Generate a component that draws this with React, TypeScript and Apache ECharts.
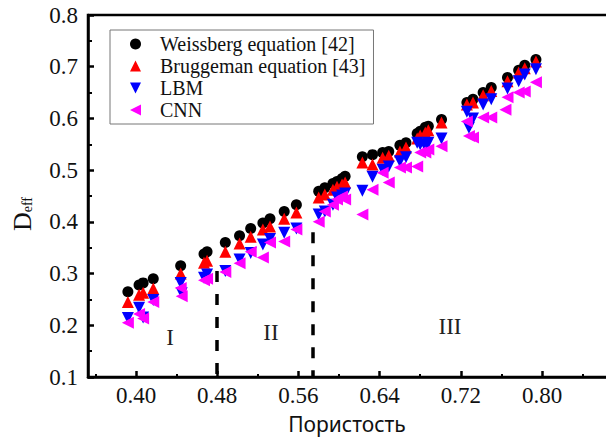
import React, { useEffect, useRef } from "react";
import * as echarts from "echarts";

const porosity = [0.392,0.403,0.407,0.417,0.444,0.445,0.467,0.470,0.488,0.502,0.513,0.525,0.532,0.546,0.558,0.580,0.586,0.594,0.598,0.603,0.606,0.623,0.633,0.643,0.649,0.660,0.666,0.677,0.680,0.685,0.688,0.701,0.726,0.728,0.732,0.742,0.750,0.764,0.766,0.777,0.783,0.794];
const weissberg = [0.265,0.278,0.282,0.290,0.315,null,0.338,0.342,0.360,0.373,0.387,0.398,0.406,0.420,0.433,0.459,0.466,0.474,0.478,0.484,0.488,0.526,0.530,0.534,0.536,0.548,0.553,0.571,0.575,0.583,0.585,0.598,0.631,null,0.637,0.650,0.660,null,0.679,0.693,0.703,0.714];
const bruggeman = [0.245,0.259,0.263,0.271,0.300,null,0.321,0.325,0.342,0.358,0.371,0.385,0.391,0.406,0.418,0.447,0.453,0.462,0.468,0.472,0.476,0.515,0.511,0.524,0.528,0.536,0.544,0.561,0.567,0.573,0.577,0.592,0.627,null,0.631,0.645,0.653,null,0.672,0.689,0.697,0.710];
const lbm = [0.214,0.234,0.215,0.249,0.282,0.262,0.292,0.298,0.305,0.327,0.340,0.356,0.367,0.379,0.387,0.414,0.420,0.433,0.447,0.451,0.455,0.460,0.487,0.501,0.507,0.517,0.525,0.553,0.550,0.546,0.553,0.561,0.613,0.582,0.600,0.627,0.637,null,0.658,0.672,0.685,0.695];
const cnn = [0.205,0.222,0.213,0.245,0.272,0.256,0.287,0.290,0.303,0.320,0.342,0.331,0.360,0.362,0.385,0.400,0.420,0.433,0.443,0.449,0.443,0.414,0.462,0.495,0.476,0.505,0.505,0.507,0.534,0.534,0.540,0.546,0.594,0.566,0.563,0.602,0.602,0.617,0.641,0.650,0.652,0.670];

const seriesNames = ["Weissberg equation [42]", "Bruggeman equation [43]", "LBM", "CNN"];
const xTickLabels = [0.40, 0.48, 0.56, 0.64, 0.72, 0.80];
const xMinorTicks = [0.36, 0.44, 0.52, 0.60, 0.68, 0.76, 0.84];
const boundaryPorosity = [0.48, 0.574];
const boundaryTop = [0.305, 0.38];
const regionLabels = ["I", "II", "III"];

const pairs = (ys: (number | null)[]) =>
  porosity.map((x, i) => [x, ys[i]]).filter((p) => p[1] !== null);

const SERIF = "'Liberation Serif', 'Times New Roman', serif";

const ICON_UP = "path://M5,0 L10,10 L0,10 Z";
const ICON_DOWN = "path://M0,0 L10,0 L5,10 Z";
const ICON_LEFT = "path://M10,0 L10,10 L0,5 Z";

export default function App() {
  const ref = useRef<HTMLDivElement>(null);
  useEffect(() => {
    if (!ref.current) return;
    const chart = echarts.init(ref.current, null, { renderer: "svg" });
    const xMin = 0.3527;
    const xMax = 0.8729;
    const common = { type: "scatter", symbolSize: 11 };
    chart.setOption({
      animation: false,
      backgroundColor: "#fff",
      grid: {
        left: 88,
        right: -10,
        top: 15,
        bottom: 71,
        outerBoundsMode: "none",
        containLabel: false,
        show: true,
        borderColor: "#000",
        borderWidth: 2.5,
        backgroundColor: "transparent",
      },
      xAxis: [
        {
          type: "value",
          min: xMin,
          max: xMax,
          position: "bottom",
          name: "Пористость",
          nameLocation: "middle",
          nameGap: 36,
          nameTextStyle: { fontFamily: "'Noto Sans', sans-serif", fontSize: 21, color: "#111", padding: [0, 10, 0, 0] },
          axisLine: { lineStyle: { color: "#000", width: 2.5 } },
          axisTick: { inside: true, length: 6, lineStyle: { color: "#000", width: 2.5 }, customValues: xTickLabels },
          axisLabel: {
            customValues: xTickLabels,
            formatter: (v: number) => v.toFixed(2),
            fontFamily: SERIF,
            fontSize: 23,
            color: "#111",
            margin: 7,
          },
          splitLine: { show: false },
        },
        {
          type: "value",
          min: xMin,
          max: xMax,
          position: "bottom",
          axisLine: { show: false },
          axisTick: { inside: true, length: 3, lineStyle: { color: "#000", width: 2 }, customValues: xMinorTicks },
          axisLabel: { show: false },
          splitLine: { show: false },
        },
      ],
      yAxis: {
        type: "value",
        min: 0.1,
        max: 0.8,
        interval: 0.1,
        axisLine: { show: true, lineStyle: { color: "#000", width: 2.5 } },
        axisTick: { inside: true, length: 6, lineStyle: { color: "#000", width: 2.5 } },
        minorTick: { show: true, splitNumber: 2, length: 4, lineStyle: { color: "#000", width: 2 } },
        axisLabel: {
          formatter: (v: number) => v.toFixed(1),
          fontFamily: SERIF,
          fontSize: 23,
          color: "#111",
          margin: 10,
        },
        splitLine: { show: false },
      },
      legend: {
        orient: "vertical",
        left: 110,
        top: 30,
        padding: [4, 8, 4, 20],
        borderColor: "#777",
        borderWidth: 1,
        itemWidth: 11,
        itemHeight: 11,
        itemGap: 2,
        textStyle: { fontFamily: SERIF, fontSize: 20, color: "#111", padding: [0, 0, 0, 14], lineHeight: 20 },
        data: [
          { name: seriesNames[0], icon: "circle" },
          { name: seriesNames[1], icon: ICON_UP },
          { name: seriesNames[2], icon: ICON_DOWN },
          { name: seriesNames[3], icon: ICON_LEFT },
        ],
      },
      series: [
        {
          ...common,
          name: seriesNames[0],
          symbol: "circle",
          itemStyle: { color: "#000", opacity: 1 },
          data: pairs(weissberg),
          markLine: {
            silent: true,
            symbol: "none",
            label: { show: false },
            lineStyle: { color: "#000", width: 3.5, type: [11, 12] },
            data: boundaryPorosity.map((x, i) => [
              { coord: [x, boundaryTop[i]] },
              { coord: [x, 0.1] },
            ]),
          },
        },
        {
          ...common,
          name: seriesNames[1],
          symbol: "triangle",
          symbolSize: 12,
          itemStyle: { color: "#ff0000", opacity: 1 },
          data: pairs(bruggeman),
        },
        {
          ...common,
          name: seriesNames[2],
          symbol: "triangle",
          symbolRotate: 180,
          symbolSize: 12,
          itemStyle: { color: "#0000ff", opacity: 1 },
          data: pairs(lbm),
        },
        {
          ...common,
          name: seriesNames[3],
          symbol: "triangle",
          symbolRotate: 90,
          symbolSize: 12,
          itemStyle: { color: "#ff00ff", opacity: 1 },
          data: pairs(cnn),
        },
      ],
      graphic: [
        {
          type: "text",
          x: 22,
          y: 214,
          rotation: Math.PI / 2,
          style: {
            text: "{d|D}{s|eff}",
            align: "center",
            verticalAlign: "middle",
            rich: {
              d: { fontFamily: SERIF, fontSize: 26, fill: "#111" },
              s: { fontFamily: SERIF, fontSize: 14, fill: "#111", padding: [10, 0, 0, 0] },
            },
          },
        },
        ...regionLabels.map((t, i) => ({
          type: "text",
          x: [170, 271, 450][i],
          y: [337, 332, 326][i],
          style: {
            text: t,
            fontFamily: SERIF,
            fontSize: 23,
            fill: "#222",
            align: "center",
            verticalAlign: "middle",
          },
        })),
      ],
    });
    return () => chart.dispose();
  }, []);
  return (
    <div
      ref={ref}
      style={{ position: "absolute", left: 0, top: 0, width: 606, height: 448 }}
    />
  );
}
